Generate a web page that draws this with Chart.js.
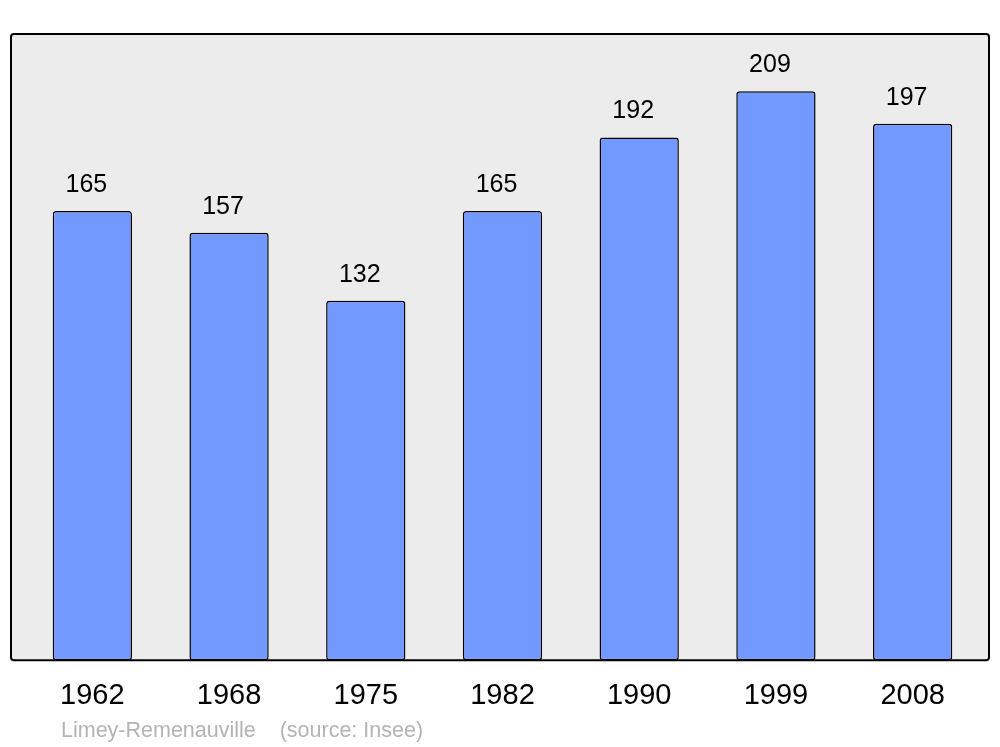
<!DOCTYPE html>
<html>
<head>
<meta charset="utf-8">
<script src="https://cdn.jsdelivr.net/npm/chart.js@4/dist/chart.umd.min.js"></script>
<style>
  html, body { margin: 0; padding: 0; background: #fff; }
  #wrap { width: 1000px; height: 747px; }
</style>
</head>
<body>
<div id="wrap"><canvas id="grafico" width="1000" height="747"></canvas></div>
<script>
// données
const annees = ["1962", "1968", "1975", "1982", "1990", "1999", "2008"];
const population = [165, 157, 132, 165, 192, 209, 197];
const yMin = 0;
const yMax = 230;
const legende = "Limey-Remenauville    (source: Insee)";

const FONTE = "'Liberation Sans', Arial, sans-serif";

// fond gris + cadre noir
const cadre = {
    id: "cadre",
    beforeDatasetsDraw(chart) {
        const { ctx, chartArea: a } = chart;
        ctx.save();
        ctx.fillStyle = "#ececec";
        ctx.beginPath();
        ctx.roundRect(a.left - 13, a.top, a.width + 21, a.height, 3);
        ctx.fill();
        ctx.restore();
    },
    afterDatasetsDraw(chart) {
        const { ctx, chartArea: a } = chart;
        ctx.save();
        ctx.strokeStyle = "#000";
        ctx.lineWidth = 2;
        ctx.beginPath();
        ctx.roundRect(a.left - 13, a.top, a.width + 21, a.height, 3);
        ctx.stroke();

        // valeurs au-dessus des barres
        const meta = chart.getDatasetMeta(0);
        ctx.fillStyle = "#000";
        ctx.font = "25px " + FONTE;
        ctx.textAlign = "center";
        ctx.textBaseline = "middle";
        meta.data.forEach((bar, i) => {
            ctx.fillText(String(population[i]), bar.x - 6, bar.y - 26);
        });

        // source
        ctx.fillStyle = "#b4b4b4";
        ctx.font = "21.5px " + FONTE;
        ctx.textAlign = "left";
        ctx.fillText(legende, 61, 731);
        ctx.restore();
    }
};

new Chart(document.getElementById("grafico"), {
    type: "bar",
    data: {
        labels: annees,
        datasets: [{
            data: population,
            backgroundColor: "#7299ff",
            borderColor: "#000",
            borderWidth: 1.5,
            borderRadius: 3,
            borderSkipped: false,
            barPercentage: 0.58,
            categoryPercentage: 1
        }]
    },
    options: {
        responsive: false,
        animation: false,
        layout: { padding: { left: 24, right: 19, top: 34, bottom: 16 } },
        plugins: {
            legend: { display: false },
            tooltip: { enabled: false }
        },
        scales: {
            x: {
                grid: { display: false, drawTicks: false },
                border: { display: false },
                ticks: { color: "#000", font: { family: FONTE, size: 29 }, padding: 18 }
            },
            y: {
                display: false,
                min: yMin,
                max: yMax
            }
        }
    },
    plugins: [cadre]
});
</script>
</body>
</html>
